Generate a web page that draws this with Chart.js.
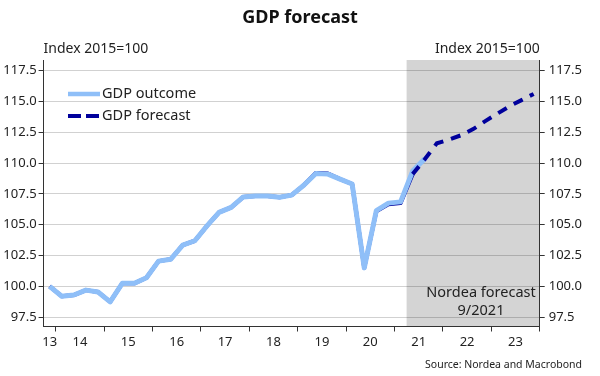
<!DOCTYPE html>
<html>
<head>
<meta charset="utf-8">
<script src="https://cdn.jsdelivr.net/npm/chart.js@4.4.0/dist/chart.umd.min.js"></script>
<style>
  html, body { margin: 0; padding: 0; background: #fff; }
  #wrap { width: 600px; height: 376px; }
</style>
</head>
<body>
<div id="wrap"><canvas id="gdp-chart" width="600" height="376"></canvas></div>
<script>
// quarterly GDP, index 2015=100
const quarters = [
  '2013Q4',
  '2014Q1','2014Q2','2014Q3','2014Q4',
  '2015Q1','2015Q2','2015Q3','2015Q4',
  '2016Q1','2016Q2','2016Q3','2016Q4',
  '2017Q1','2017Q2','2017Q3','2017Q4',
  '2018Q1','2018Q2','2018Q3','2018Q4',
  '2019Q1','2019Q2','2019Q3','2019Q4',
  '2020Q1','2020Q2','2020Q3','2020Q4',
  '2021Q1','2021Q2','2021Q3','2021Q4',
  '2022Q1','2022Q2','2022Q3','2022Q4',
  '2023Q1','2023Q2','2023Q3','2023Q4'
];

const outcome = [
  100.0,
  99.2, 99.3, 99.7, 99.55,
  98.75, 100.25, 100.25, 100.7,
  102.05, 102.2, 103.35, 103.7,
  104.9, 106.0, 106.4, 107.25,
  107.33, 107.33, 107.22, 107.4,
  108.2, 109.15, 109.1, 108.7,
  108.3, 101.5, 106.15, 106.75,
  106.85, 109.35, 110.35
];

// forecast series: older vintage of history, then the forecast path (dashed from 2021Q2)
const forecastHistory = [
  100.0,
  99.2, 99.3, 99.7, 99.55,
  98.75, 100.25, 100.25, 100.7,
  102.05, 102.2, 103.35, 103.7,
  104.9, 106.0, 106.4, 107.25,
  107.33, 107.33, 107.22, 107.4,
  108.2, 109.2, 109.15, 108.7,
  108.3, 101.5, 106.1, 106.65,
  106.75, 109.1
];
const forecastStart = '2021Q2';
const forecast = [109.1, 110.3, 111.6, 111.9, 112.25, 112.75, 113.4, 114.0, 114.6, 115.1, 115.6];

const yTicks = [97.5, 100.0, 102.5, 105.0, 107.5, 110.0, 112.5, 115.0, 117.5];
const yearLabels = ['13','14','15','16','17','18','19','20','21','22','23'];
const shadeFrom = 2021.25;

const font = 'Noto Sans';
const textColor = '#222';
const lightBlue = '#8fbff8';
const darkBlue = '#00009c';

function qx(q){
  const yr = parseInt(q.slice(0,4));
  const n = parseInt(q.slice(5));
  return yr + (n-1)*0.25 + 0.125;
}

const outcomePts = outcome.map((v,i)=>({x: qx(quarters[i]), y: v}));
const historyPts = forecastHistory.map((v,i)=>({x: qx(quarters[i]), y: v}));
const startIdx = quarters.indexOf(forecastStart);
const forecastPts = forecast.map((v,i)=>({x: qx(quarters[startIdx+i]), y: v}));

const shadePlugin = {
  id: 'shade',
  beforeDraw(chart){
    const {ctx, chartArea, scales} = chart;
    const x0 = scales.x.getPixelForValue(shadeFrom);
    ctx.save();
    ctx.fillStyle = '#d4d4d4';
    ctx.fillRect(x0, chartArea.top, chartArea.right - x0, chartArea.bottom - chartArea.top);
    ctx.restore();
  }
};

const textPlugin = {
  id: 'texts',
  afterDraw(chart){
    const {ctx, chartArea} = chart;
    ctx.save();
    ctx.fillStyle = textColor;
    ctx.textBaseline = 'middle';
    ctx.font = '14px "' + font + '"';
    ctx.textAlign = 'left';
    ctx.fillText('Index 2015=100', chartArea.left, 49);
    ctx.textAlign = 'right';
    ctx.fillText('Index 2015=100', chartArea.right, 49);

    ctx.font = '14.5px "' + font + '"';
    ctx.textAlign = 'center';
    ctx.fillText('Nordea forecast', 481, 293);
    ctx.fillText('9/2021', 481, 311);

    ctx.font = '10.5px "' + font + '"';
    ctx.textAlign = 'right';
    ctx.fillText('Source: Nordea and Macrobond', 582, 365);

    // legend
    ctx.lineWidth = 4.5;
    ctx.strokeStyle = lightBlue;
    ctx.beginPath(); ctx.moveTo(68, 94); ctx.lineTo(100, 94); ctx.stroke();
    ctx.strokeStyle = darkBlue;
    ctx.lineWidth = 4;
    ctx.setLineDash([13, 5]);
    ctx.beginPath(); ctx.moveTo(68, 116); ctx.lineTo(100, 116); ctx.stroke();
    ctx.setLineDash([]);
    ctx.font = '14.5px "' + font + '"';
    ctx.textAlign = 'left';
    ctx.fillText('GDP outcome', 102, 94);
    ctx.fillText('GDP forecast', 102, 116);
    ctx.restore();
  }
};

function yAxis(pos, w, pad, onChart){
  return {
    type: 'linear',
    position: pos,
    min: 96.75,
    max: 118.35,
    afterBuildTicks: (s) => { s.ticks = yTicks.map(v => ({value: v})); },
    afterFit: (s) => { s.width = w; },
    grid: {
      drawOnChartArea: onChart,
      color: 'rgba(0,0,0,0.18)',
      tickColor: '#333',
      tickLength: 5
    },
    border: { color: '#333', width: 1 },
    ticks: {
      padding: pad,
      color: textColor,
      font: { family: font, size: 13 },
      callback: (v) => Number(v).toFixed(1)
    }
  };
}

const chart = new Chart(document.getElementById('gdp-chart'), {
  type: 'line',
  data: {
    datasets: [
      {
        label: 'GDP forecast',
        data: forecastPts,
        borderColor: darkBlue,
        borderWidth: 4,
        borderDash: [10, 8],
        pointRadius: 0,
        order: 0
      },
      {
        label: 'GDP outcome',
        data: outcomePts,
        borderColor: lightBlue,
        borderWidth: 5,
        borderJoinStyle: 'round',
        pointRadius: 0,
        order: 1
      },
      {
        label: 'GDP forecast history',
        data: historyPts,
        borderColor: darkBlue,
        borderWidth: 4,
        borderJoinStyle: 'round',
        pointRadius: 0,
        order: 2
      }
    ]
  },
  options: {
    responsive: false,
    devicePixelRatio: 1,
    animation: false,
    layout: { padding: 0 },
    plugins: {
      legend: { display: false },
      tooltip: { enabled: false },
      title: {
        display: true,
        text: 'GDP forecast',
        color: '#111',
        font: { family: font, size: 18, weight: 'bold', lineHeight: 1.2 },
        padding: { top: 7, bottom: 31.4 }
      }
    },
    scales: {
      x: {
        type: 'linear',
        min: 2013.75,
        max: 2024,
        afterBuildTicks: (s) => {
          const t = [];
          for (let yr = 2014; yr <= 2024; yr++) t.push({value: yr});
          yearLabels.forEach((lab, i) => {
            const yr = 2013 + i;
            t.push({value: (Math.max(yr, s.min) + yr + 1) / 2});
          });
          t.sort((a,b) => a.value - b.value);
          s.ticks = t;
        },
        afterFit: (s) => { s.height = 49.5; },
        grid: {
          drawOnChartArea: false,
          tickLength: 5,
          tickColor: (c) => (c.tick && Number.isInteger(c.tick.value)) ? '#333' : 'rgba(0,0,0,0)'
        },
        border: { color: '#333', width: 1 },
        ticks: {
          autoSkip: false,
          maxRotation: 0,
          padding: 3,
          color: textColor,
          font: { family: font, size: 13 },
          callback: (v) => Number.isInteger(v) ? '' : yearLabels[Math.floor(v) - 2013]
        }
      },
      y: yAxis('left', 43.6, 2, true),
      y2: yAxis('right', 60.3, 4, false)
    }
  },
  plugins: [shadePlugin, textPlugin]
});
</script>
</body>
</html>
